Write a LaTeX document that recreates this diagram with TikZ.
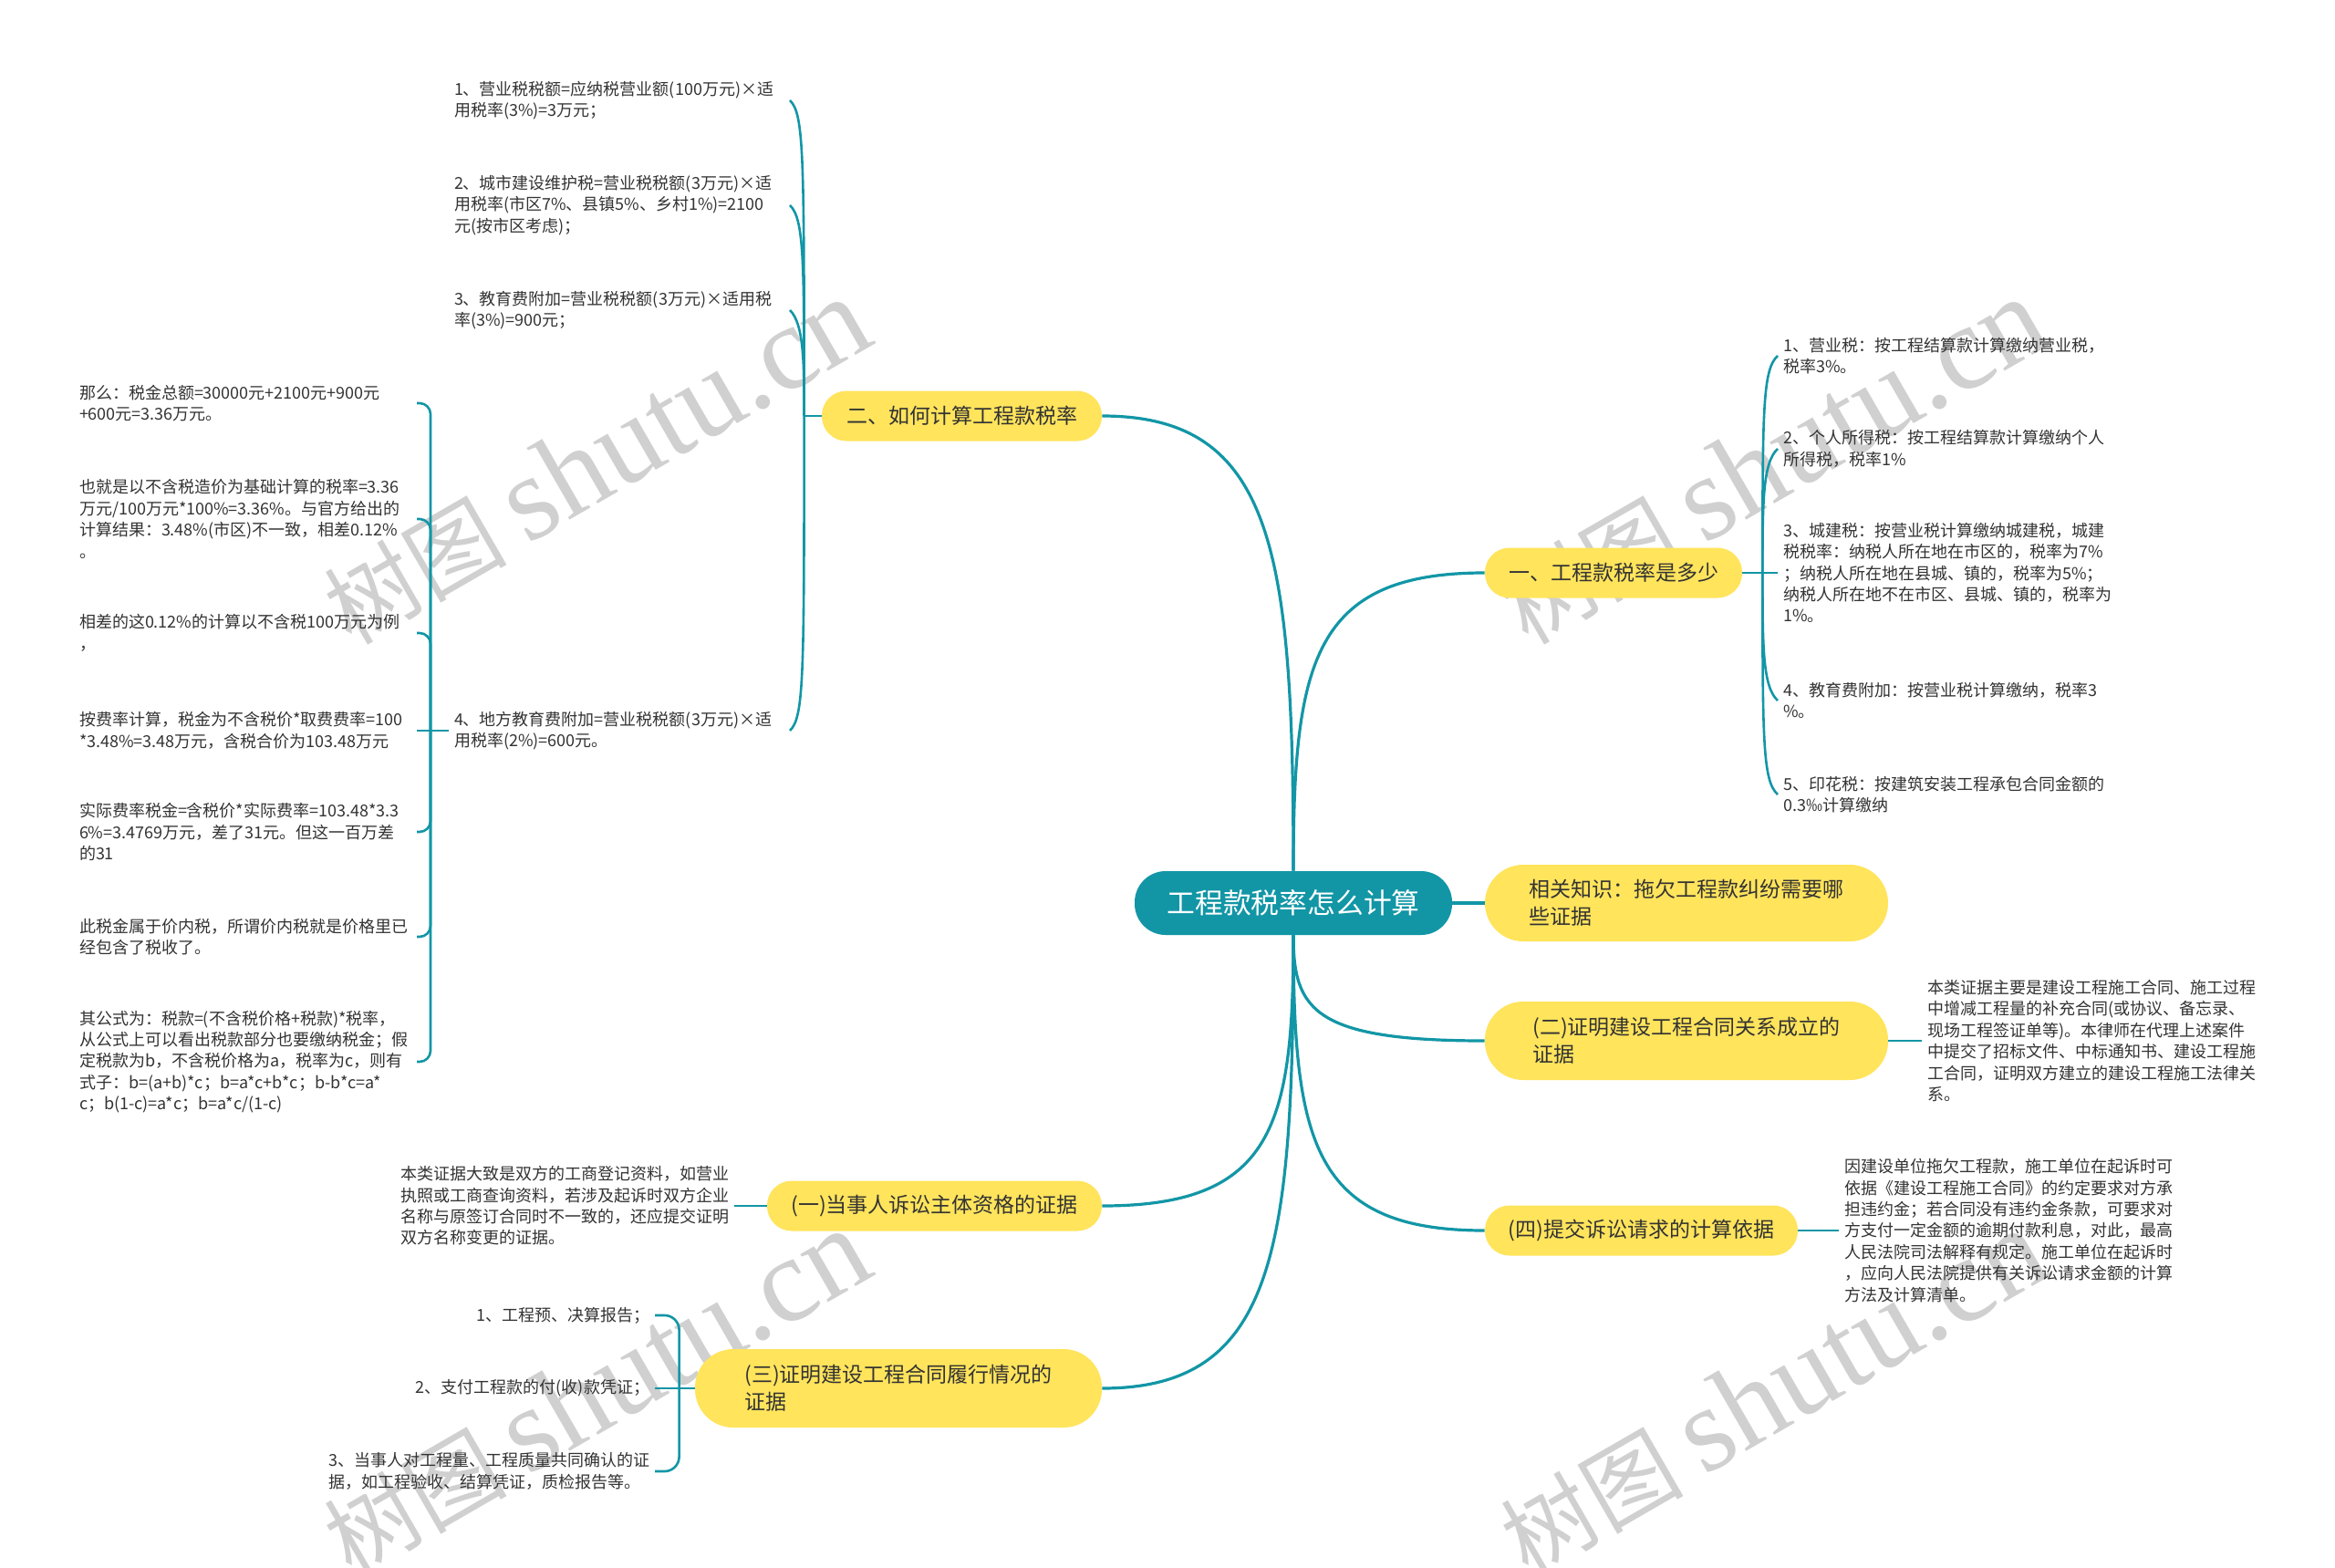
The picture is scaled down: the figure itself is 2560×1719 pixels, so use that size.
\documentclass[tikz,border=0pt]{standalone}
\usepackage{fontspec}
\setmainfont{Noto Sans CJK SC}
\newfontfamily\wmserif{Liberation Serif}
\usetikzlibrary{calc}
\definecolor{teal1}{RGB}{18,150,166}
\definecolor{pillc}{RGB}{255,228,92}
\definecolor{leaftxt}{RGB}{51,51,51}
\definecolor{wmc}{RGB}{208,208,208}
\newcommand\hk[3]{\draw[sub] (#1) .. controls ($(#1 |- #2)+(0,#3)$) and ($(#1 |- #2)+(0,{#3/4})$) .. (#2);}
\begin{document}
\begin{tikzpicture}[x=0.5pt,y=-0.5pt,
  rootn/.style={fill=teal1, text=white, rounded corners=17pt, minimum width=174pt, minimum height=35pt, font=\fontsize{15.4}{18}\selectfont, inner sep=0pt},
  pillone/.style={fill=pillc, text=leaftxt, rounded corners=13.5pt, minimum height=27.5pt, font=\fontsize{11.5}{15}\selectfont, align=left, inner sep=0pt},
  pilltwo/.style={pillone, rounded corners=21pt, minimum height=43pt},
  leaf/.style={text=leaftxt, font=\fontsize{9}{11.7}\selectfont, align=left, inner sep=0pt, outer xsep=3pt},
  main/.style={draw=teal1, line width=1.6pt},
  sub/.style={draw=teal1, line width=1.3pt},
  wmark/.style={text=wmc, rotate=30, inner sep=0pt}
]
\fill[white] (0,0) rectangle (2560,1719);
\useasboundingbox (0,0) rectangle (2560,1719);

% watermarks
\node[wmark] (w1) at (653,506) {\fontsize{50}{60}\selectfont 树图 {\wmserif\fontsize{66}{70}\selectfont shutu.cn}};
\node[wmark] (w2) at (653,1527) {\fontsize{50}{60}\selectfont 树图 {\wmserif\fontsize{66}{70}\selectfont shutu.cn}};
\node[wmark] (w3) at (1943,506) {\fontsize{50}{60}\selectfont 树图 {\wmserif\fontsize{66}{70}\selectfont shutu.cn}};
\node[wmark] (w4) at (1943,1527) {\fontsize{50}{60}\selectfont 树图 {\wmserif\fontsize{66}{70}\selectfont shutu.cn}};

% root and main branches
\node[rootn] (root) at (1418,990) {工程款税率怎么计算};
\node[pillone, minimum width=141pt] (p1) at (1769,628) {一、工程款税率是多少};
\node[pilltwo, minimum width=221pt, minimum height=42pt] (p2) at (1849,990) {相关知识：拖欠工程款纠纷需要哪\\些证据};
\node[pilltwo, minimum width=221pt] (p3) at (1849,1141) {(二)证明建设工程合同关系成立的\\证据};
\node[pillone, minimum width=171.5pt] (p4) at (1799.5,1349) {(四)提交诉讼请求的计算依据};
\node[pillone, minimum width=153.5pt] (p5) at (1054.5,456) {二、如何计算工程款税率};
\node[pillone, minimum width=183.5pt] (p6) at (1024.5,1322) {(一)当事人诉讼主体资格的证据};
\node[pilltwo, minimum width=223pt] (p7) at (985,1522) {(三)证明建设工程合同履行情况的\\证据};

% leaves of p5
\node[leaf, text width=181pt, anchor=west] (l1) at (492,110) {1、营业税税额=应纳税营业额(100万元)×适\\用税率(3\%)=3万元；};
\node[leaf, text width=181pt, anchor=west] (l2) at (492,225) {2、城市建设维护税=营业税税额(3万元)×适\\用税率(市区7\%、县镇5\%、乡村1\%)=2100\\元(按市区考虑)；};
\node[leaf, text width=181pt, anchor=west] (l3) at (492,340) {3、教育费附加=营业税税额(3万元)×适用税\\率(3\%)=900元；};
\node[leaf, text width=181pt, anchor=west] (l4) at (492,801) {4、地方教育费附加=营业税税额(3万元)×适\\用税率(2\%)=600元。};

% leaves of l4
\node[leaf, text width=182pt, anchor=west] (f1) at (81,442) {那么：税金总额=30000元+2100元+900元\\+600元=3.36万元。};
\node[leaf, text width=182pt, anchor=west] (f2) at (81,569) {也就是以不含税造价为基础计算的税率=3.36\\万元/100万元*100\%=3.36\%。与官方给出的\\计算结果：3.48\%(市区)不一致，相差0.12\%\\。};
\node[leaf, text width=182pt, anchor=west] (f3) at (81,694) {相差的这0.12\%的计算以不含税100万元为例\\，};
\node[leaf, text width=182pt, anchor=west] (f4) at (81,801) {按费率计算，税金为不含税价*取费费率=100\\{}*3.48\%=3.48万元，含税合价为103.48万元};
\node[leaf, text width=182pt, anchor=west] (f5) at (81,912) {实际费率税金=含税价*实际费率=103.48*3.3\\6\%=3.4769万元，差了31元。但这一百万差\\的31};
\node[leaf, text width=182pt, anchor=west] (f6) at (81,1027) {此税金属于价内税，所谓价内税就是价格里已\\经包含了税收了。};
\node[leaf, text width=182pt, anchor=west] (f7) at (81,1164) {其公式为：税款=(不含税价格+税款)*税率，\\从公式上可以看出税款部分也要缴纳税金；假\\定税款为b，不含税价格为a，税率为c，则有\\式子：b=(a+b)*c；b=a*c+b*c；b-b*c=a*\\c；b(1-c)=a*c；b=a*c/(1-c)};

% leaves of p1
\node[leaf, anchor=west] (r1) at (1949,390) {1、营业税：按工程结算款计算缴纳营业税，\\税率3\%。};
\node[leaf, anchor=west] (r2) at (1949,492) {2、个人所得税：按工程结算款计算缴纳个人\\所得税，税率1\%};
\node[leaf, anchor=west] (r3) at (1949,628) {3、城建税：按营业税计算缴纳城建税，城建\\税税率：纳税人所在地在市区的，税率为7\%\\；纳税人所在地在县城、镇的，税率为5\%；\\纳税人所在地不在市区、县城、镇的，税率为\\1\%。};
\node[leaf, anchor=west] (r4) at (1949,768) {4、教育费附加：按营业税计算缴纳，税率3\\\%。};
\node[leaf, anchor=west] (r5) at (1949,871) {5、印花税：按建筑安装工程承包合同金额的\\0.3‰计算缴纳};

% other leaves
\node[leaf, anchor=west] (q2) at (2107,1141) {本类证据主要是建设工程施工合同、施工过程\\中增减工程量的补充合同(或协议、备忘录、\\现场工程签证单等)。本律师在代理上述案件\\中提交了招标文件、中标通知书、建设工程施\\工合同，证明双方建立的建设工程施工法律关\\系。};
\node[leaf, anchor=west] (q4) at (2016,1349) {因建设单位拖欠工程款，施工单位在起诉时可\\依据《建设工程施工合同》的约定要求对方承\\担违约金；若合同没有违约金条款，可要求对\\方支付一定金额的逾期付款利息，对此，最高\\人民法院司法解释有规定。施工单位在起诉时\\，应向人民法院提供有关诉讼请求金额的计算\\方法及计算清单。};
\node[leaf, anchor=east] (b1) at (805,1322) {本类证据大致是双方的工商登记资料，如营业\\执照或工商查询资料，若涉及起诉时双方企业\\名称与原签订合同时不一致的，还应提交证明\\双方名称变更的证据。};
\node[leaf, anchor=east] (t1) at (718,1442) {1、工程预、决算报告；};
\node[leaf, anchor=east] (t2) at (718,1522) {2、支付工程款的付(收)款凭证；};
\node[leaf, anchor=east] (t3) at (718,1613) {3、当事人对工程量、工程质量共同确认的证\\据，如工程验收、结算凭证，质检报告等。};

% junctions
\coordinate (j5) at ($(p5.west)+(-19,0)$);
\coordinate (j4) at ($(l4.west)+(-20,0)$);
\coordinate (j1) at ($(p1.east)+(22,0)$);
\coordinate (j7) at ($(p7.west)+(-17,0)$);

% main connectors
\draw[main] (root.north) .. controls ($(root.north)!0.7!(root.north |- p5.east)$) and ($(root.north |- p5.east)!0.1!(p5.east)$) .. (p5.east);
\draw[main] (root.north) .. controls ($(root.north)!0.7!(root.north |- p1.west)$) and ($(root.north |- p1.west)!0.1!(p1.west)$) .. (p1.west);
\draw[main] (root.east) -- (p2.west);
\draw[main] (root.south) .. controls ($(root.south)!0.7!(root.south |- p3.west)$) and ($(root.south |- p3.west)!0.1!(p3.west)$) .. (p3.west);
\draw[main] (root.south) .. controls ($(root.south)!0.7!(root.south |- p4.west)$) and ($(root.south |- p4.west)!0.1!(p4.west)$) .. (p4.west);
\draw[main] (root.south) .. controls ($(root.south)!0.7!(root.south |- p6.east)$) and ($(root.south |- p6.east)!0.1!(p6.east)$) .. (p6.east);
\draw[main] (root.south) .. controls ($(root.south)!0.7!(root.south |- p7.east)$) and ($(root.south |- p7.east)!0.1!(p7.east)$) .. (p7.east);

% p5 group
\draw[sub] (p5.west) -- (j5);
\hk{j5}{l1.east}{60}
\hk{j5}{l2.east}{60}
\hk{j5}{l3.east}{60}
\hk{j5}{l4.east}{-60}

% l4 group
\draw[sub] (l4.west) -- (j4) -- (f4.east);
\draw[sub, rounded corners=6pt] (j4) -- (j4 |- f1.east) -- (f1.east);
\draw[sub, rounded corners=6pt] (j4) -- (j4 |- f2.east) -- (f2.east);
\draw[sub, rounded corners=6pt] (j4) -- (j4 |- f3.east) -- (f3.east);
\draw[sub, rounded corners=6pt] (j4) -- (j4 |- f5.east) -- (f5.east);
\draw[sub, rounded corners=6pt] (j4) -- (j4 |- f6.east) -- (f6.east);
\draw[sub, rounded corners=6pt] (j4) -- (j4 |- f7.east) -- (f7.east);

% p1 group
\draw[sub] (p1.east) -- (j1) -- (r3.west);
\hk{j1}{r1.west}{60}
\hk{j1}{r2.west}{60}
\hk{j1}{r4.west}{-60}
\hk{j1}{r5.west}{-60}

% single leaves
\draw[sub] (p3.east) -- (q2.west);
\draw[sub] (p4.east) -- (q4.west);
\draw[sub] (p6.west) -- (b1.east);

% p7 group
\draw[sub] (p7.west) -- (j7) -- (t2.east);
\draw[sub, rounded corners=8pt] (j7) -- (j7 |- t1.east) -- (t1.east);
\draw[sub, rounded corners=8pt] (j7) -- (j7 |- t3.east) -- (t3.east);
\end{tikzpicture}
\end{document}
